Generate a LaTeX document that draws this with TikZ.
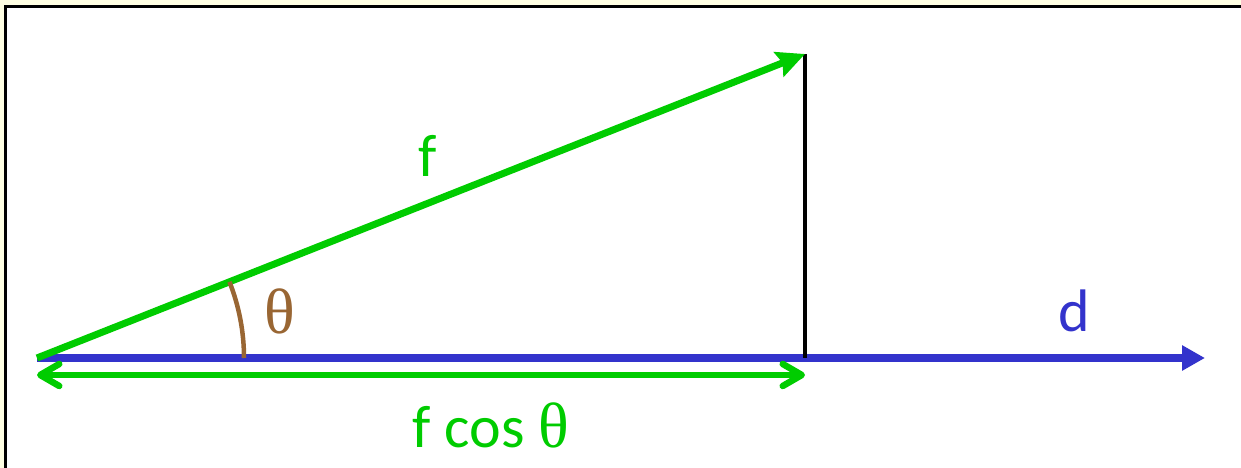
\documentclass[tikz,border=0pt]{standalone}
\usepackage{fontspec}
\setmainfont{Carlito}
\newfontfamily\thetafont{Liberation Serif}
\usetikzlibrary{arrows.meta,calc}
\definecolor{vgreen}{HTML}{00CC00}
\definecolor{vblue}{HTML}{3333CC}
\definecolor{vbrown}{HTML}{996633}
\definecolor{bgyellow}{HTML}{FFFFE3}
\tikzset{
  fvec/.style={draw=vgreen, line width=7pt, -{Stealth[length=28pt,width=26pt,inset=4pt]}},
  dvec/.style={draw=vblue, line width=7.5pt, -{Triangle[length=23pt,width=24pt]}},
  proj/.style={draw=vgreen, line width=6.5pt, {Straight Barb[length=19pt,width=22pt,round]}-{Straight Barb[length=19pt,width=22pt,round]}},
  perp/.style={draw=black, line width=4pt},
  anglearc/.style={draw=vbrown, line width=4.5pt},
  lbl/.style={inner sep=0pt, font=\fontsize{60}{72}\selectfont},
  th/.style={font=\fontsize{64}{72}\thetafont},
}
\begin{document}
\begin{tikzpicture}[x=1pt,y=1pt]
\useasboundingbox (0,0) rectangle (1241,468);
\fill[bgyellow] (0,0) rectangle (1241,468);
\fill[white] (5,0) rectangle (1241,461);
\draw[line width=3pt] (5,0) -- (5,461) -- (1241,461);
\coordinate (O) at (37,110);
\coordinate (F) at (805,414);
\coordinate (P) at (805,110);
\coordinate (D) at (1205,110);
\coordinate (A1) at (37,93);
\coordinate (A2) at (805,93);
\draw[dvec] (O) -- (D);
\draw[perp] (P) -- (F);
\draw[fvec] (O) -- (F);
\draw[proj] (A1) -- (A2);
\draw[anglearc] ($(O)+(207,0)$) arc[start angle=0,end angle=21.6,radius=207];
\node[lbl, text=vgreen] (flabel) at (428,312) {f};
\node[lbl, th, text=vbrown] (thlabel) at (280,157) {θ};
\node[lbl, text=vblue] (dlabel) at (1074,157) {d};
\node[lbl, text=vgreen] (fcos) at (491,43) {f cos {\fontsize{64}{72}\thetafont θ}};
\end{tikzpicture}
\end{document}
